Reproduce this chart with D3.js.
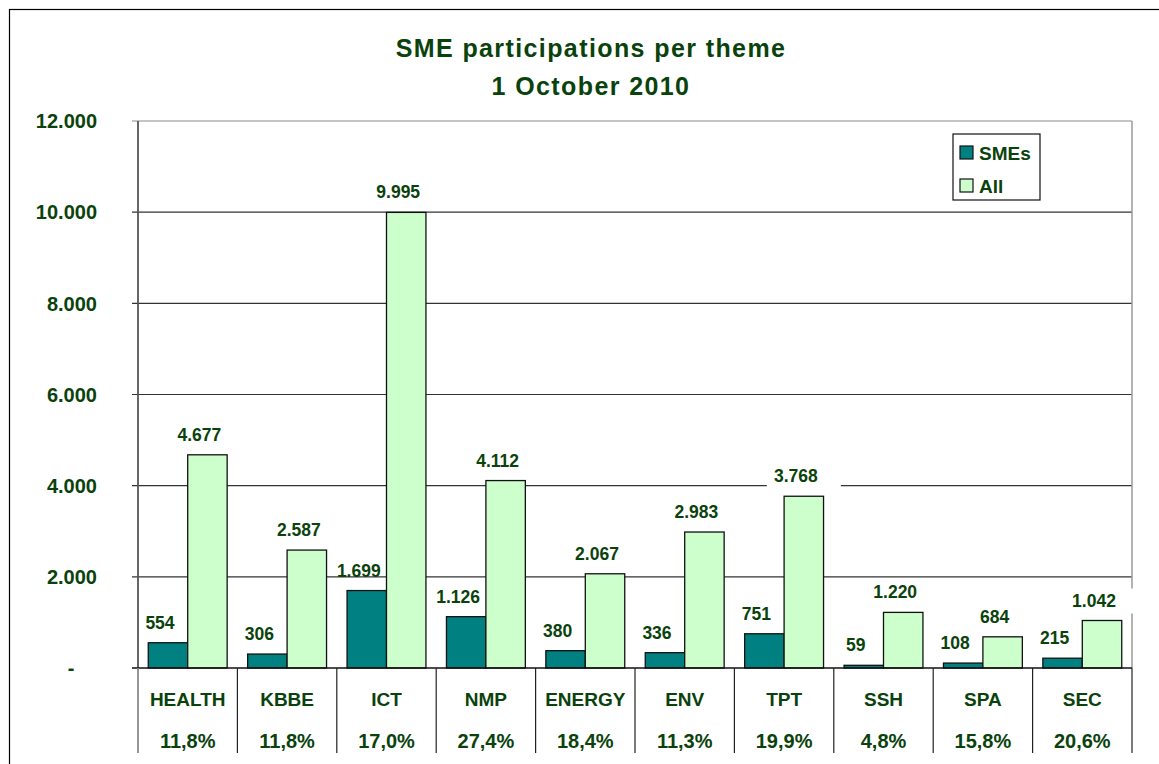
<!DOCTYPE html>
<html>
<head>
<meta charset="utf-8">
<script src="https://cdn.jsdelivr.net/npm/d3@7"></script>
<style>
	body { margin: 0; background: #fff; }
	text { font-family: Arial, "Liberation Sans", sans-serif; font-weight: bold; fill: #0a420c; }
</style>
</head>
<body>
<script>
var themes = ['HEALTH', 'KBBE', 'ICT', 'NMP', 'ENERGY', 'ENV', 'TPT', 'SSH', 'SPA', 'SEC']
var sme_values = [554, 306, 1699, 1126, 380, 336, 751, 59, 108, 215]
var all_values = [4677, 2587, 9995, 4112, 2067, 2983, 3768, 1220, 684, 1042]
var share_labels = ['11,8%', '11,8%', '17,0%', '27,4%', '18,4%', '11,3%', '19,9%', '4,8%', '15,8%', '20,6%']
var series_names = ['SMEs', 'All']
var y_ticks = [0, 2000, 4000, 6000, 8000, 10000, 12000]
var title_lines = ['SME participations per theme', '1 October 2010']

function plot_it() {
	var width = 1159, height = 764
	var left = 138, right = 1132, top = 121, zero_y = 668, table_bottom = 753
	var colors = {'SMEs': '#008080', 'All': '#ccffcc'}
	var fmt = d => d3.format(',')(d).replace(/,/g, '.')

	var svg = d3.select('body').append('svg').attr('width', width).attr('height', height)

	// outer chart border (only top and left show in the picture)
	svg.append('rect').attr('x', 9.5).attr('y', 9.5).attr('width', 1300).attr('height', 900)
		.attr('fill', 'none').attr('stroke', '#000').attr('stroke-width', 1.2)

	svg.selectAll('.title').data(title_lines).enter().append('text')
		.attr('class', 'title')
		.attr('x', 591).attr('y', (d, i) => 57 + i * 38)
		.attr('text-anchor', 'middle')
		.style('font-size', '25px').style('letter-spacing', '1.4px')
		.text(d => d)

	var x = d3.scaleBand().domain(themes).range([left, right])
	var x1 = d3.scaleBand().domain(series_names).range([0, x.bandwidth()]).paddingOuter(0.26)
	var y = d3.scaleLinear().domain([0, 12000]).range([zero_y, top])

	// gridlines
	svg.selectAll('.grid').data(y_ticks.filter(d => d > 0)).enter().append('line')
		.attr('class', 'grid')
		.attr('x1', left - 6).attr('x2', right)
		.attr('y1', d => y(d)).attr('y2', d => y(d))
		.attr('stroke', d => d == 12000 ? '#8a8a8a' : '#333').attr('stroke-width', 1.2)

	svg.append('line').attr('x1', right).attr('x2', right).attr('y1', top).attr('y2', zero_y)
		.attr('stroke', '#9a9a9a').attr('stroke-width', 1.5)

	// y tick labels
	svg.selectAll('.ytick').data(y_ticks).enter().append('text')
		.attr('class', 'ytick')
		.attr('x', d => d == 0 ? 71 : 97)
		.attr('y', d => y(d))
		.attr('dy', '0.36em')
		.attr('text-anchor', d => d == 0 ? 'middle' : 'end')
		.style('font-size', '20px')
		.text(d => d == 0 ? '-' : fmt(d))

	var rows = themes.map((t, i) => ({theme: t, SMEs: sme_values[i], All: all_values[i], share: share_labels[i]}))
	var bars = []
	rows.forEach(r => series_names.forEach(s => bars.push({theme: r.theme, series: s, val: r[s]})))

	svg.selectAll('.bar').data(bars).enter().append('rect')
		.attr('class', 'bar')
		.attr('x', d => x(d.theme) + x1(d.series))
		.attr('y', d => y(d.val))
		.attr('width', x1.bandwidth())
		.attr('height', d => zero_y - y(d.val))
		.attr('fill', d => colors[d.series])
		.attr('stroke', '#111').attr('stroke-width', 1.3)

	// white boxes behind the "All" labels hide the lines they cross
	svg.selectAll('.lblbox').data(bars.filter(d => d.series == 'All')).enter().append('rect')
		.attr('class', 'lblbox')
		.attr('x', d => x(d.theme) + x1(d.series) + x1.bandwidth() / 2 - 37)
		.attr('y', d => y(d.val) - 14 - 18)
		.attr('width', 74).attr('height', 25)
		.attr('fill', '#fff')

	svg.selectAll('.lbl').data(bars).enter().append('text')
		.attr('class', 'lbl')
		.attr('x', d => x(d.theme) + x1(d.series) + x1.bandwidth() / 2 - 8)
		.attr('y', d => y(d.val) - 14)
		.attr('text-anchor', 'middle')
		.style('font-size', '17.5px')
		.text(d => fmt(d.val))

	// left axis with outside ticks
	svg.append('line').attr('x1', left).attr('x2', left).attr('y1', top).attr('y2', zero_y)
		.attr('stroke', '#555').attr('stroke-width', 1.8)
	svg.append('line').attr('x1', left - 6).attr('x2', right).attr('y1', zero_y).attr('y2', zero_y)
		.attr('stroke', '#111').attr('stroke-width', 1.3)

	// data table under the chart
	var edges = themes.map(t => x(t)).concat([right])
	svg.selectAll('.tline').data(edges).enter().append('line')
		.attr('class', 'tline')
		.attr('x1', d => d).attr('x2', d => d)
		.attr('y1', zero_y).attr('y2', table_bottom)
		.attr('stroke', (d, i) => i == 0 ? '#8a8a8a' : '#222').attr('stroke-width', (d, i) => i == 0 ? 1.8 : 1.2)

	svg.selectAll('.cat').data(rows).enter().append('text')
		.attr('class', 'cat')
		.attr('x', d => x(d.theme) + x.bandwidth() / 2)
		.attr('y', 706)
		.attr('text-anchor', 'middle')
		.style('font-size', '19px')
		.text(d => d.theme)

	svg.selectAll('.share').data(rows).enter().append('text')
		.attr('class', 'share')
		.attr('x', d => x(d.theme) + x.bandwidth() / 2)
		.attr('y', 748)
		.attr('text-anchor', 'middle')
		.style('font-size', '20px')
		.text(d => d.share)

	// legend
	var lg = svg.append('g').attr('transform', 'translate(953,134)')
	lg.append('rect').attr('width', 87).attr('height', 66)
		.attr('fill', '#fff').attr('stroke', '#111').attr('stroke-width', 1.2)
	var items = lg.selectAll('.lg').data(series_names).enter().append('g')
		.attr('class', 'lg')
		.attr('transform', (d, i) => 'translate(7,' + (12 + i * 33) + ')')
	items.append('rect').attr('width', 13).attr('height', 13)
		.attr('fill', d => colors[d]).attr('stroke', '#111').attr('stroke-width', 1.2)
	items.append('text').attr('x', 19).attr('y', 14)
		.style('font-size', '19px')
		.text(d => d)
}

plot_it()
</script>
</body>
</html>
